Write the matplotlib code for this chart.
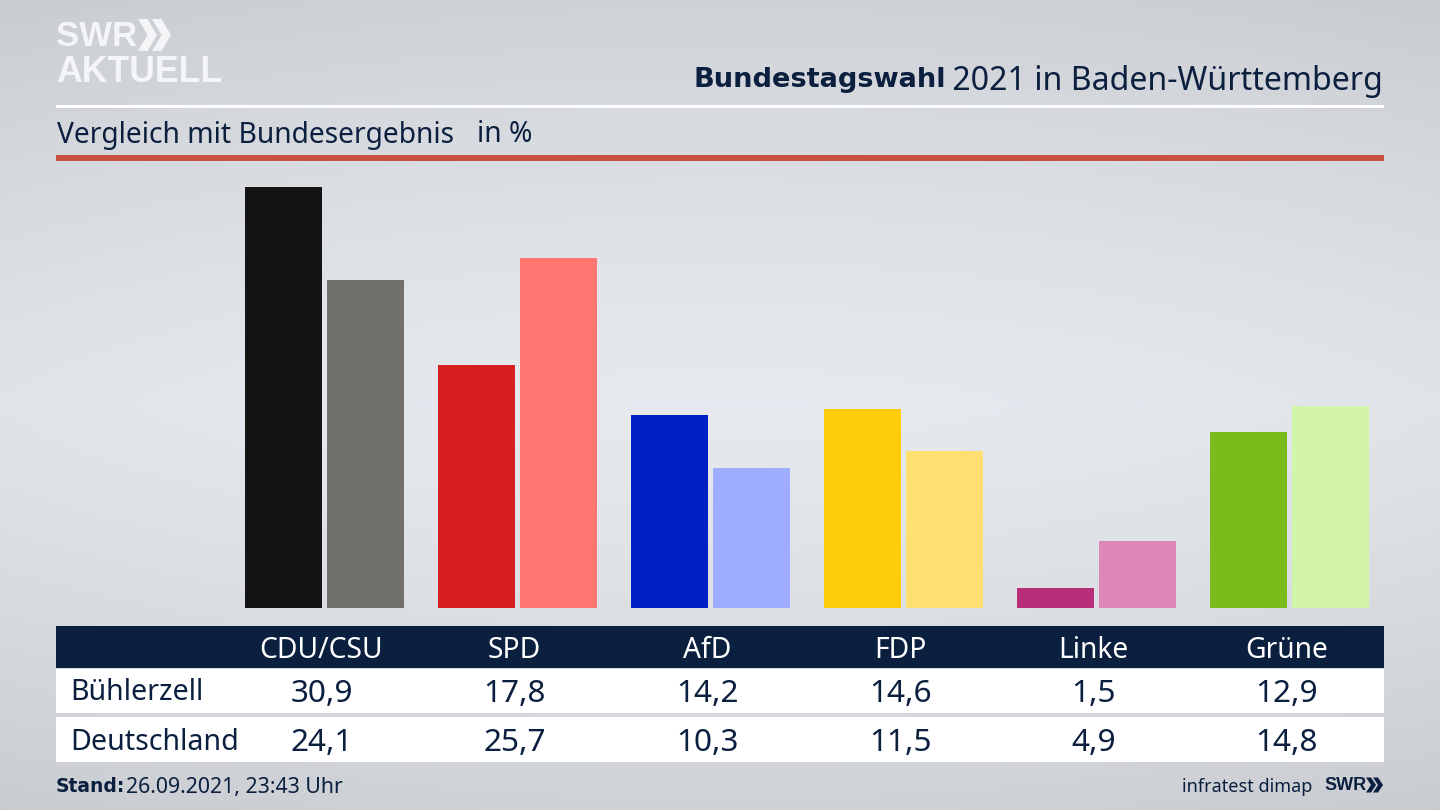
import numpy as np
import matplotlib
matplotlib.use('Agg')
import matplotlib.pyplot as plt
from matplotlib.patches import Rectangle, Polygon

plt.rcParams['font.family'] = ['Noto Sans', 'DejaVu Sans']

parties = ['CDU/CSU', 'SPD', 'AfD', 'FDP', 'Linke', 'Grüne']
buehlerzell = [30.9, 17.8, 14.2, 14.6, 1.5, 12.9]
deutschland = [24.1, 25.7, 10.3, 11.5, 4.9, 14.8]
colors_local = ['#141414', '#d71f1f', '#0020c4', '#ffcc0a', '#b92e78', '#79bc1c']
colors_bund = ['#72706d', '#ff7570', '#9eadff', '#ffdf72', '#de88b8', '#d2f5a8']

navy = '#0b1f3f'
logo = ['Liberation Sans']
bold = ['DejaVu Sans']
W, H = 1440, 810

fig = plt.figure(figsize=(14.4, 8.1), dpi=100)

# background + everything that is not a bar, in pixel coordinates
bg = fig.add_axes([0, 0, 1, 1])
bg.set_xlim(0, W)
bg.set_ylim(H, 0)
bg.axis('off')

yy = np.linspace(0, 1, 200)[:, None]
xx = np.linspace(0, 1, 300)[None, :]
shade = np.minimum(1, np.abs(yy - 0.5) * 2) ** 1.3 * 0.8 + np.abs(xx - 0.5) ** 2 * 0.8
grad = np.clip(0.92 - 0.115 * shade, 0, 1)
rgb = np.dstack([grad * 0.98, grad * 0.993, grad * 1.015])
bg.imshow(np.clip(rgb, 0, 1), extent=[0, W, H, 0], aspect='auto', zorder=0)


def rect(x0, y0, x1, y1, color):
    bg.add_patch(Rectangle((x0, y0), x1 - x0, y1 - y0, fc=color, ec='none', zorder=1))


def chevrons(x, y, h, w, gap, color):
    for i in range(2):
        x0 = x + i * gap
        bg.add_patch(Polygon([(x0, y), (x0 + w * 0.5, y), (x0 + w, y + h / 2),
                              (x0 + w * 0.5, y + h), (x0, y + h), (x0 + w * 0.5, y + h / 2)],
                             fc=color, ec='none', zorder=2))


# logo
bg.text(56, 36, 'SWR', color='#f4f5f7', fontsize=25, fontweight='bold', va='center', ha='left', family=logo)
chevrons(138, 19, 32, 19, 14, '#f4f5f7')
bg.text(56, 73, 'AKTUELL', color='#f4f5f7', fontsize=25.7, fontweight='bold', va='center', ha='left', family=logo)

# header
t = bg.text(1383, 81, ' 2021 in Baden-Württemberg', color=navy, fontsize=23.1, va='center', ha='right')
fig.canvas.draw()
bb = t.get_window_extent()
bg.text(bb.x0 + 2, 80, 'Bundestagswahl', color=navy, fontsize=19.6, fontweight='bold', va='center', ha='right',
        family=bold)
rect(56, 104.5, 1384, 107.5, 'white')
bg.text(57, 135, 'Vergleich mit Bundesergebnis', color=navy, fontsize=20.3, va='center', ha='left')
bg.text(477, 135, 'in %', color=navy, fontsize=20.3, va='center', ha='left')
rect(56, 155, 1384, 160.5, '#c9513f')

# bars
ax = fig.add_axes([0, 1 - 608 / H, 1, 608 / H - 160 / H])
ax.patch.set_alpha(0)
ax.axis('off')
step = 193.0
x0_px = 324.5
ax.set_xlim(-x0_px / step, (W - x0_px) / step)
ax.set_ylim(0, (608 - 160) / 13.625)
x = np.arange(len(parties))
ax.bar(x - 0.2124, buehlerzell, width=0.399, color=colors_local)
ax.bar(x + 0.2124, deutschland, width=0.399, color=colors_bund)

# table
rect(56, 626, 1384, 668, navy)
rect(56, 669, 1384, 713, 'white')
rect(56, 717, 1384, 762, 'white')
bg.text(70, 693, 'Bühlerzell', color=navy, fontsize=20.6, va='center', ha='left')
bg.text(70, 742, 'Deutschland', color=navy, fontsize=20.6, va='center', ha='left')
for i, party in enumerate(parties):
    cx = 321.5 + step * i
    bg.text(cx, 650, party, color='white', fontsize=20.3, va='center', ha='center')
    bg.text(cx, 694, f'{buehlerzell[i]:.1f}'.replace('.', ','), color=navy, fontsize=22.7, va='center', ha='center')
    bg.text(cx, 743, f'{deutschland[i]:.1f}'.replace('.', ','), color=navy, fontsize=22.7, va='center', ha='center')

# footer
bg.text(56, 787, 'Stand:', color=navy, fontsize=13.5, fontweight='bold', va='center', ha='left', family=bold)
bg.text(126, 788, '26.09.2021, 23:43 Uhr', color=navy, fontsize=15.3, va='center', ha='left')
bg.text(1312, 787, 'infratest dimap', color=navy, fontsize=13, va='center', ha='right')
bg.text(1324, 785, 'SWR', color=navy, fontsize=13, fontweight='bold', va='center', ha='left', family=logo)
chevrons(1366, 777.5, 15, 10, 7, navy)

fig.savefig('out.png', dpi=100)
